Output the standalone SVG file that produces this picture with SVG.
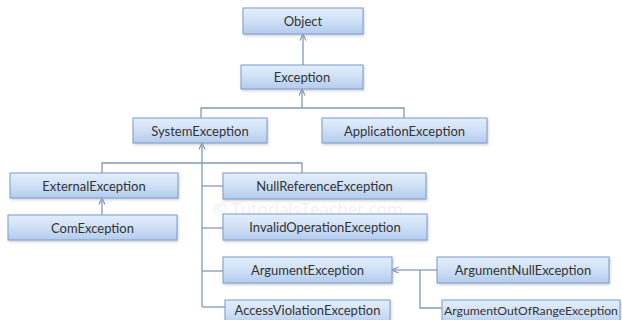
<svg xmlns="http://www.w3.org/2000/svg" width="622" height="320" viewBox="0 0 622 320">
<defs>
<linearGradient id="g" x1="0" y1="0" x2="0" y2="1">
<stop offset="0" stop-color="#e3eefb"/>
<stop offset="0.5" stop-color="#cfe0f6"/>
<stop offset="1" stop-color="#b3cbed"/>
</linearGradient>
<marker id="arr" viewBox="0 0 8 8" refX="7.5" refY="4" markerWidth="8" markerHeight="8" markerUnits="userSpaceOnUse" orient="auto">
<path d="M1,1 L7.5,4 L1,7" fill="none" stroke="#7f97b6" stroke-width="1.2"/>
</marker>
<filter id="sh" x="-10%" y="-20%" width="120%" height="150%">
<feDropShadow dx="1" dy="1.5" stdDeviation="1" flood-color="#9aa7b8" flood-opacity="0.5"/>
</filter>
</defs>
<style>
.box rect{fill:url(#g);stroke:#7d9cc9;stroke-width:1;filter:url(#sh)}
.box text{font-family:Lato,"Open Sans","Liberation Sans",sans-serif;font-size:13px;fill:#333333;text-anchor:middle;dominant-baseline:central}
.box text.sm{font-size:12.2px}
.con path{fill:none;stroke:#8299b6;stroke-width:1.3}
.wm{font-family:"Open Sans","Liberation Sans",sans-serif;font-size:17px;fill:#efefef}
</style>
<rect width="622" height="320" fill="#ffffff"/>
<text class="wm" x="213" y="215">© TutorialsTeacher.com</text>
<g class="con">
<path d="M303,65 L303,34" marker-end="url(#arr)"/>
<path d="M302,108 L302,89" marker-end="url(#arr)"/>
<path d="M201,118 L201,108 L404,108 L404,118"/>
<path d="M202,307 L202,143" marker-end="url(#arr)"/>
<path d="M102,173 L102,163 L302,163 L302,173"/>
<path d="M102,215 L102,198" marker-end="url(#arr)"/>
<path d="M202,186 L223,186"/>
<path d="M202,228 L223,228"/>
<path d="M202,271 L223,271"/>
<path d="M202,307 L225,307"/>
<path d="M437,270 L420,270"/>
<path d="M420,270 L392,270" marker-end="url(#arr)"/>
<path d="M420,270 L420,308 L442,308"/>
</g>
<g id="object" class="box"><rect x="243" y="8" width="120" height="26"/><text x="303" y="21">Object</text></g>
<g id="exception" class="box"><rect x="241" y="65" width="122" height="24"/><text x="302" y="77">Exception</text></g>
<g id="systemexception" class="box"><rect x="133" y="118" width="134" height="25"/><text x="200" y="130.5">SystemException</text></g>
<g id="applicationexception" class="box"><rect x="322" y="118" width="165" height="25"/><text x="404.5" y="130.5">ApplicationException</text></g>
<g id="externalexception" class="box"><rect x="10" y="173" width="168" height="25"/><text x="94" y="185.5">ExternalException</text></g>
<g id="comexception" class="box"><rect x="8" y="215" width="169" height="25"/><text x="92.5" y="227.5">ComException</text></g>
<g id="nullreferenceexception" class="box"><rect x="223" y="173" width="203" height="26"/><text x="324.5" y="186">NullReferenceException</text></g>
<g id="invalidoperationexception" class="box"><rect x="223" y="214" width="204" height="26"/><text x="325" y="227">InvalidOperationException</text></g>
<g id="argumentexception" class="box"><rect x="223" y="257" width="169" height="26"/><text x="307.5" y="270">ArgumentException</text></g>
<g id="accessviolationexception" class="box"><rect x="225" y="300" width="165" height="26"/><text x="307.5" y="310">AccessViolationException</text></g>
<g id="argumentnullexception" class="box"><rect x="437" y="257" width="172" height="26"/><text x="523" y="270">ArgumentNullException</text></g>
<g id="argumentoutofrangeexception" class="box"><rect x="442" y="300" width="178" height="26"/><text class="sm" x="531" y="310">ArgumentOutOfRangeException</text></g>
</svg>
